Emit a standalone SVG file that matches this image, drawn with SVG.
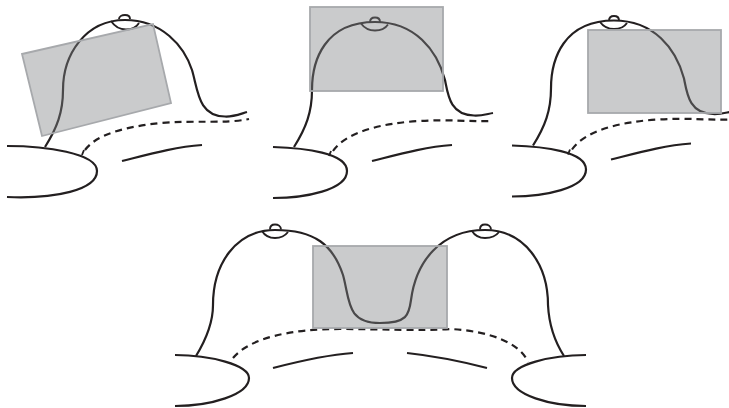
<svg xmlns="http://www.w3.org/2000/svg" width="729" height="408" viewBox="0 0 729 408">
<style>
.l{fill:none;stroke:#231f20;stroke-width:2.200;stroke-linecap:butt}
.t{fill:none;stroke:#231f20;stroke-width:1.900}
.d{fill:none;stroke:#231f20;stroke-width:2.200;stroke-dasharray:7 5}
.r{fill:#808285;fill-opacity:.42;stroke:#a7a9ac;stroke-width:1.800}
</style>
<defs>
<g id="shape2">
<path class="l" d="M294 147C306 128 312 112 312 90C312 60 325 22 375 22C415 22 437 50 445 80C448 95 450 115 474 115.500C481 116 487 114 493 113"/>
<path class="t" d="M361 23.500C365 29 370 30.500 375 30.500C380 30.500 385 29 388 24.500M370 22.500C370 19 372 17.500 375 17.500C378 17.500 380 19 380 22"/>
<path class="l" d="M273 147C305 148 347 153 347 171C347 190 305 198 273 198"/>
<path class="d" d="M333 151C345 133 380 123 420 121C450 119 470 122 493 121"/>
<path class="t" d="M331 151L329 156"/>
<path class="l" d="M372 161C400 154 425 147 452 145"/>
</g>
</defs>
<g id="panel-1">
<path class="l" d="M45 147C57 128 63 112 63 90C63 55 85 20 125 20C162 20 184 46 192 70C198 90 198 116 225 116.500C233 117 240 114 247 112"/>
<path class="t" d="M111 21C115 27 120 29.500 126 29.500C132 29.500 136 28 139 23M119 19C119 16.500 122 15 125 15C128 15 130 16.500 130 19"/>
<path class="l" d="M7 146C45 146 97 153 97 171C97 190 55 199 7 197"/>
<path class="d" d="M85 150C97 134 125 127 160 123C195 120 225 124 249 119"/>
<path class="t" d="M84 150L82 155"/>
<path class="l" d="M122 161C150 154 175 147 202 145"/>
<polygon class="r" points="22,54 153,24 171,103 42,136"/>
</g>
<g id="panel-2">
<use href="#shape2"/>
<rect class="r" x="310" y="7" width="133" height="84"/>
</g>
<g id="panel-3">
<use href="#shape2" transform="translate(239 -1.500)"/>
<rect class="r" x="588" y="30" width="133" height="83"/>
</g>
<g id="panel-4">
<path class="l" d="M196 356C207 338 213 322 213 305C213 265 235 230 275 230C315 230 333 245 343 275C350 300 346 323 380 323C407 323 409 315 411 300C416 262 440 230 485 230C525 230 548 265 548 305C549 325 555 342 564 356"/>
<path class="t" d="M262 231C265 236 270 238 275 238C280 238 285 236 288 232M270 229.500C270 226 272 224.500 275 224.500C278 224.500 281 226 281 229.500"/>
<path class="t" d="M472 231C475 236 480 238 485 238C490 238 496 236 499 232M480 229.500C480 226 482 224.500 485 224.500C488 224.500 491 226 491 229.500"/>
<path class="l" d="M175 355C210 355 249 365 249 378C249 395 210 406 175 406"/>
<path class="l" d="M586 355C550 355 512 365 512 378C512 395 550 406 586 406"/>
<path class="d" d="M233 358C250 338 290 329 340 329C380 329 420 331 450 329C490 331 520 343 528 362"/>
<path class="l" d="M273 368C300 361 325 355 353 353"/>
<path class="l" d="M407 353C435 356 460 361 487 368"/>
<rect class="r" x="313" y="246" width="134" height="82"/>
</g>
</svg>
